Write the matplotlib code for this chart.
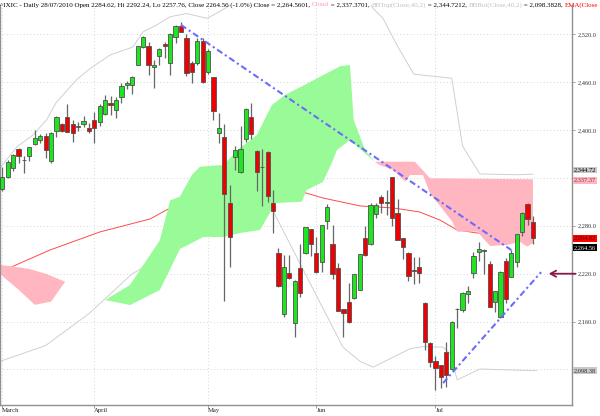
import numpy as np
import pandas as pd
import matplotlib
matplotlib.use("Agg")
import matplotlib.pyplot as plt
from matplotlib.patches import Rectangle, Polygon

# trading days shown (Mar 9 - Jul 28 2010)
dates = pd.bdate_range("2010-03-09", "2010-07-28")
dates = dates.drop(pd.to_datetime(["2010-04-02", "2010-05-31", "2010-07-05"]))

opens = [2325.8, 2340.8, 2352.1, 2375.9, 2362.6, 2367.9, 2382.2, 2387.2, 2392.2, 2360.9,
         2398.5, 2407.6, 2416.0, 2407.2, 2404.0, 2407.2, 2403.0, 2412.6, 2409.7, 2420.5,
         2433.5, 2424.8, 2441.8, 2456.1, 2456.1, 2481.5, 2503.7, 2505.7, 2478.7, 2493.2,
         2507.5, 2483.7, 2516.2, 2530.8, 2515.4, 2483.7, 2484.0, 2512.0, 2473.1, 2466.1,
         2396.0, 2391.7, 2309.0, 2366.6, 2347.8, 2388.4, 2416.0, 2374.1, 2353.5, 2372.9,
         2308.2, 2245.6, 2169.1, 2220.5, 2157.9, 2226.8, 2245.6, 2275.7, 2245.6, 2235.0,
         2286.0, 2256.9, 2226.8, 2175.8, 2184.9, 2189.2, 2199.6, 2264.4, 2256.9, 2294.4,
         2316.5, 2309.0, 2340.8, 2296.4, 2264.4, 2246.3, 2225.0, 2228.0, 2183.7, 2133.5,
         2110.6, 2105.6, 2122.3, 2100.2, 2175.5, 2174.5, 2194.2, 2221.3, 2247.2, 2248.5,
         2232.2, 2185.0, 2165.4, 2235.9, 2216.3, 2234.3, 2271.9, 2307.0, 2284.62]
highs = [2353.3, 2362.5, 2370.0, 2377.2, 2367.5, 2379.2, 2399.7, 2394.7, 2395.9, 2398.0,
         2417.0, 2409.2, 2432.7, 2412.6, 2410.5, 2418.0, 2408.5, 2423.0, 2432.3, 2443.9,
         2442.7, 2441.8, 2458.6, 2461.5, 2468.1, 2505.8, 2518.2, 2510.7, 2487.8, 2502.5,
         2510.0, 2521.3, 2531.7, 2535.8, 2520.0, 2487.0, 2515.0, 2515.0, 2502.0, 2466.6,
         2421.0, 2407.6, 2330.8, 2380.0, 2405.1, 2427.3, 2434.3, 2374.6, 2375.9, 2374.1,
         2324.9, 2251.8, 2243.4, 2243.4, 2211.5, 2257.2, 2279.0, 2276.3, 2265.6, 2281.6,
         2307.4, 2281.0, 2233.0, 2176.3, 2208.7, 2220.0, 2245.0, 2279.8, 2308.2, 2308.2,
         2318.6, 2324.9, 2341.5, 2313.2, 2265.0, 2246.8, 2241.3, 2240.6, 2184.2, 2134.0,
         2116.9, 2106.0, 2134.8, 2160.5, 2176.6, 2196.6, 2204.6, 2247.6, 2260.1, 2250.5,
         2235.9, 2198.6, 2222.8, 2239.3, 2249.7, 2269.8, 2296.8, 2308.0, 2292.24]
lows = [2324.0, 2339.6, 2349.1, 2358.4, 2346.6, 2361.6, 2381.3, 2384.2, 2365.4, 2358.4,
        2390.9, 2398.0, 2397.5, 2385.4, 2399.2, 2404.2, 2395.9, 2384.4, 2405.5, 2418.9,
        2418.9, 2414.7, 2433.5, 2451.1, 2445.6, 2481.0, 2503.0, 2469.0, 2453.1, 2481.5,
        2490.7, 2469.0, 2508.7, 2522.5, 2467.7, 2458.6, 2482.0, 2459.0, 2470.0, 2412.6,
        2383.4, 2186.2, 2228.8, 2350.0, 2345.8, 2385.4, 2388.4, 2324.0, 2304.8, 2310.2,
        2271.4, 2203.7, 2166.1, 2214.0, 2141.1, 2191.2, 2245.0, 2242.2, 2221.3, 2222.5,
        2275.7, 2213.0, 2173.0, 2140.3, 2158.6, 2188.0, 2199.0, 2242.2, 2256.4, 2289.4,
        2296.4, 2293.6, 2279.8, 2262.0, 2238.0, 2211.2, 2206.7, 2208.7, 2124.4, 2103.5,
        2074.3, 2076.8, 2078.4, 2099.5, 2151.6, 2172.4, 2183.7, 2214.2, 2235.9, 2219.6,
        2178.3, 2172.4, 2165.0, 2183.7, 2216.0, 2228.0, 2267.3, 2281.0, 2257.76]
closes = [2340.8, 2359.6, 2369.1, 2367.9, 2362.1, 2378.4, 2389.7, 2392.2, 2374.6, 2396.3,
          2416.0, 2399.2, 2398.0, 2395.9, 2404.6, 2411.0, 2398.5, 2402.6, 2430.5, 2437.7,
          2431.4, 2437.3, 2455.2, 2458.6, 2466.5, 2505.0, 2516.2, 2481.5, 2481.2, 2501.2,
          2505.0, 2520.0, 2530.8, 2523.3, 2471.9, 2472.4, 2511.9, 2460.6, 2498.7, 2424.3,
          2402.2, 2319.9, 2265.6, 2375.0, 2375.9, 2426.0, 2395.1, 2347.5, 2354.2, 2317.4,
          2298.2, 2204.6, 2228.8, 2214.2, 2210.9, 2195.5, 2278.2, 2257.2, 2221.8, 2281.0,
          2303.2, 2219.6, 2173.6, 2170.4, 2159.1, 2219.3, 2244.3, 2243.4, 2306.1, 2306.1,
          2308.2, 2309.5, 2289.4, 2262.3, 2253.8, 2217.5, 2223.5, 2220.5, 2134.8, 2109.7,
          2101.5, 2091.2, 2093.1, 2159.9, 2175.8, 2196.2, 2198.3, 2242.2, 2250.6, 2249.7,
          2178.7, 2198.3, 2222.5, 2187.9, 2246.3, 2269.4, 2296.4, 2288.2, 2264.56]

# overlays as (day index, value)
bb_top = [(-0.5, 2352), (2.7, 2379), (5.7, 2394), (8.2, 2413), (9.9, 2434), (13.7, 2463),
          (16.2, 2477), (19.9, 2494), (24.1, 2504), (26.0, 2523), (28.6, 2532), (31.0, 2542),
          (34.0, 2546), (37.8, 2540), (40.0, 2548), (42.0, 2556), (44.0, 2575), (60.0, 2620),
          (66.0, 2580), (68.4, 2553), (70.3, 2540), (73.0, 2505), (76.0, 2470), (83.0, 2465),
          (85.0, 2380), (88.2, 2345), (95.0, 2344), (98.0, 2344.7)]
bb_bot = [(-0.5, 2110), (8.0, 2130), (16.0, 2170), (24.0, 2220), (32.0, 2250), (40.0, 2300),
          (49.9, 2300), (62.9, 2128), (66.1, 2110), (68.5, 2103), (75.3, 2126), (77.7, 2128.6),
          (81.4, 2128), (82.7, 2120), (84.0, 2087), (88.2, 2100.6), (98.7, 2098.4)]
ema = [(-0.4, 2222.2), (8.8, 2249.7), (18.0, 2272.3), (27.3, 2288.6), (31.0, 2302.4),
       (36.5, 2316.1), (45.7, 2324.9), (55.9, 2321.5), (59.2, 2314.9), (66.1, 2304.9),
       (72.2, 2302.4), (77.1, 2297.3), (80.8, 2287.3), (84.0, 2274.8), (87.7, 2271.0),
       (90.1, 2269.8), (98.0, 2264.6)]

cloud_pink_left = [(-0.5, 2231), (2, 2229), (5, 2226), (8, 2220), (11.6, 2210),
                   (9, 2185), (6, 2181), (3, 2200), (-0.5, 2220)]
cloud_green = [(19, 2187), (23.6, 2206), (29.1, 2262), (31, 2312), (32.8, 2316.5), (35, 2343.7),
               (36.5, 2354.1), (40.8, 2356.2), (43.9, 2377.5), (47, 2393.8), (49.8, 2431.4),
               (52.2, 2444), (56.8, 2460), (62.4, 2480), (64.2, 2481.5), (64.9, 2412.6),
               (67, 2375), (68.8, 2360),
               (64.2, 2387.6), (61.8, 2375), (61.1, 2362.5), (59.2, 2334.9), (56.2, 2324.9),
               (55.3, 2310.2), (50.4, 2308.6), (49.4, 2296.1), (47.6, 2274.8), (43.9, 2271),
               (40.8, 2266), (37.1, 2266), (35, 2258.5), (32.8, 2251), (29.1, 2199.6),
               (23.6, 2180.8)]
cloud_pink_right = [(68.8, 2360), (69.7, 2360.4), (76.2, 2360.4), (79.0, 2339.6), (98.0, 2338.3),
                    (98.0, 2258.5), (96.9, 2253.9), (95.6, 2260.1), (93.2, 2256), (90.1, 2254.7),
                    (88.8, 2264.4), (87.7, 2272.7), (84.0, 2272.7), (83.1, 2285.2), (79.0, 2320.8),
                    (77.7, 2343.7), (75.3, 2343.7), (74.4, 2335.3), (72.2, 2350), (69.7, 2356.2)]

trend_down = [(33, 2531.7), (94, 2249.7)]
trend_up = [(81.4, 2083.0), (99.5, 2222.0)]

y_ticks = [2100, 2160, 2220, 2280, 2340, 2400, 2460, 2520]
tags = [(2344.72, "2,344.72", "#c8c8c8", "black", 3),
        (2337.37, "2,337.37", "#ffb6c1", "#7a3a3a", 0),
        (2264.62, "2,264.62", "#ff0000", "#400000", 0),
        (2264.56, "2,264.56", "#000000", "white", -7),
        (2098.38, "2,098.38", "#c8c8c8", "#333333", 0)]

plt.rcParams['font.family'] = ['Liberation Serif', 'DejaVu Serif']

W, H = 600, 416
fig = plt.figure(figsize=(W / 100, H / 100), dpi=100)
ax = fig.add_axes([0, (H - 405) / H, 572 / W, (405 - 5) / H])
ax.set_xlim(-0.425, 105.21)
ax.set_ylim(2055.5, 2556.7)

n = len(closes)

# grid
gcol = "#c8c8c8"
for v in y_ticks:
    ax.axhline(v, color=gcol, lw=0.6, ls=(0, (1, 3)), zorder=0)
month_idx = [0]
for i in range(1, n):
    if dates[i].month != dates[i - 1].month:
        month_idx.append(i)
month_lab = ["March", "April", "May", "Jun", "Jul"]
for m in month_idx:
    ax.axvline(m, color=gcol, lw=0.6, ls=(0, (1, 3)), zorder=0)

# bands and ema
bx, by = zip(*bb_top)
ax.plot(bx, by, color="#d0d0d0", lw=0.7, zorder=1)
bx, by = zip(*bb_bot)
ax.plot(bx, by, color="#d0d0d0", lw=0.7, zorder=1)
ex, ey = zip(*ema)
ax.plot(ex, ey, color="#ff4a4a", lw=0.7, zorder=1)

# cloud
for pts, col in [(cloud_pink_left, "#ffb6c1"), (cloud_green, "#98fb98"),
                 (cloud_pink_right, "#ffb6c1")]:
    ax.add_patch(Polygon(pts, closed=True, facecolor=col, edgecolor="none", zorder=2))

# candles
bw = 0.78
for i in range(n):
    o, h, l, c = opens[i], highs[i], lows[i], closes[i]
    ax.plot([i, i], [l, h], color="#666666", lw=0.9, zorder=3, solid_capstyle="butt")
    col = "#1ee61e" if c >= o else "#f00000"
    bot = min(o, c)
    ht = max(abs(c - o), 0.6)
    ax.add_patch(Rectangle((i - bw / 2, bot), bw, ht, facecolor=col,
                           edgecolor="#505050", lw=0.6, zorder=4))

# trend lines
for tl in [trend_down, trend_up]:
    tx, ty = zip(*tl)
    ax.plot(tx, ty, color="#6b6bff", lw=1.5, ls=(0, (3, 1.5, 1, 1.5)), zorder=5,
            clip_on=False)

# arrow
ax.annotate("", xy=(100.4, 2220), xytext=(106.4, 2220),
            arrowprops=dict(arrowstyle="->,head_length=0.4,head_width=0.22",
                            color="#8b1a4a", lw=1.3),
            annotation_clip=False, zorder=6)

# axes styling
ax.spines["top"].set_visible(False)
for s in ["left", "right", "bottom"]:
    ax.spines[s].set_color("#909090")
    ax.spines[s].set_linewidth(1.0)
ax.yaxis.tick_right()
ax.set_yticks(y_ticks)
ax.set_yticklabels(["" if v in (2100, 2340) else f"{v:,.1f}" for v in y_ticks])
ax.tick_params(axis="y", length=2, width=0.6, colors="#909090", labelcolor="#333333",
               labelsize=4.6, pad=2)
ax.set_xticks(month_idx)
ax.set_xticklabels(month_lab)
for lab in ax.get_xticklabels():
    lab.set_ha("left")
ax.tick_params(axis="x", length=2, width=0.6, colors="#909090", labelcolor="#222222",
               labelsize=4.8, pad=0.5)

# value tags on right axis
for v, s, fc, tc, off in tags:
    ax.annotate(s, xy=(1.0, v), xycoords=("axes fraction", "data"),
                xytext=(1.5, off), textcoords="offset points", va="center", ha="left",
                fontsize=4.6, color=tc, annotation_clip=False, zorder=7,
                bbox=dict(boxstyle="square,pad=0.15", fc=fc, ec="none"))

# title made of coloured pieces
pieces = [("^IXIC - Daily 28/07/2010 Open 2284.62, Hi 2292.24, Lo 2257.76, Close 2264.56 (-1.0%) Close = 2,264.5601, ", "black"),
          ("Cloud", "#ff9aa8"), (" = 2,337.3701, ", "black"),
          ("BBTop(Close,40,2)", "#c0c0c0"), (" = 2,344.7212, ", "black"),
          ("BBBot(Close,40,2)", "#c0c0c0"), (" = 2,098.3828, ", "black"),
          ("EMA(Close", "#ff0000")]
renderer = fig.canvas.get_renderer()


def width_px(s, size):
    t1 = fig.text(0, 0, s + "|", fontsize=size)
    t2 = fig.text(0, 0, "|", fontsize=size)
    w = t1.get_window_extent(renderer).width - t2.get_window_extent(renderer).width
    t1.remove()
    t2.remove()
    return w


pre = "".join(p for p, _ in pieces[:-1])
fs = 10 * 562 / width_px(pre, 10)
xpos = 0.0
for s, col in pieces:
    fig.text(xpos / W, 1 - 2 / H, s, fontsize=fs, color=col, va="top", ha="left")
    xpos += width_px(s, fs)

fig.savefig("out.png", dpi=100)
